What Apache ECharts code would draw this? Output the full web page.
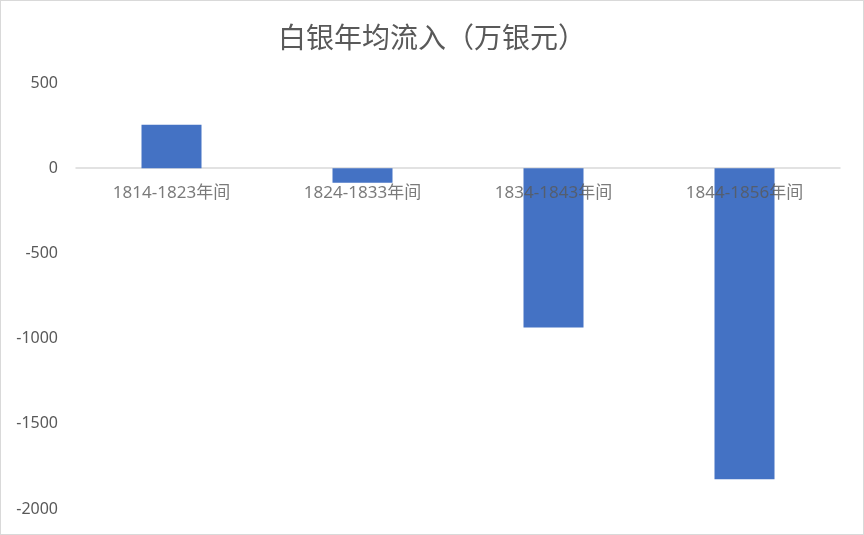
<!DOCTYPE html>
<html>
<head>
<meta charset="utf-8">
<script src="https://cdn.jsdelivr.net/npm/echarts@6/dist/echarts.min.js"></script>
<style>
    html, body { margin: 0; padding: 0; background: #fff; }
    #chart { width: 862px; height: 533px; border: 1px solid #d9d9d9; }
</style>
</head>
<body>
<div id="chart"></div>
<script>
// 数据
var title = '白银年均流入（万银元）'
var periods = ['1814-1823年间', '1824-1833年间', '1834-1843年间', '1844-1856年间']
var inflow = [255, -85, -935, -1825]
var yTicks = [-2000, -1500, -1000, -500, 0, 500]

var font = "'Noto Sans', 'Noto Sans CJK SC', sans-serif"
var chart = echarts.init(document.getElementById('chart'))
var option = {}

option['title'] = {
    text: title,
    left: 'center',
    top: 17,
    textStyle: {
        fontFamily: 'Noto Sans CJK SC',
        fontSize: 28,
        fontWeight: 'normal',
        color: '#595959'
    }
}

option['grid'] = {
    left: 75,
    right: 23,
    top: 82,
    bottom: 25,
    containLabel: false,
    outerBoundsMode: 'none'
}

option['xAxis'] = {
    type: 'category',
    data: periods,
    axisLine: { onZero: true, lineStyle: { color: '#d9d9d9', width: 1.5 } },
    axisTick: { show: false },
    axisLabel: { show: false }
}

option['yAxis'] = {
    type: 'value',
    min: yTicks[0],
    max: yTicks[yTicks.length - 1],
    interval: 500,
    axisLine: { show: false },
    axisTick: { show: false },
    splitLine: { show: false },
    axisLabel: {
        margin: 18,
        fontFamily: font,
        fontSize: 16,
        color: '#595959',
        formatter: function (v) { return String(v) }
    }
}

// 类别标签放在零线下方（压在柱子上面）
var zeroLabels = periods.map(function (p) { return [p, 0] })

option['series'] = [{
    type: 'bar',
    data: inflow,
    barWidth: 60,
    itemStyle: { color: '#4472C4' }
}, {
    type: 'scatter',
    data: zeroLabels,
    symbolSize: 0,
    z: 10,
    silent: true,
    label: {
        show: true,
        position: 'bottom',
        distance: 16,
        formatter: function (p) { return p.value[0] },
        fontFamily: font,
        fontSize: 17,
        color: '#595959'
    }
}]

option && chart.setOption(option)
</script>
</body>
</html>
